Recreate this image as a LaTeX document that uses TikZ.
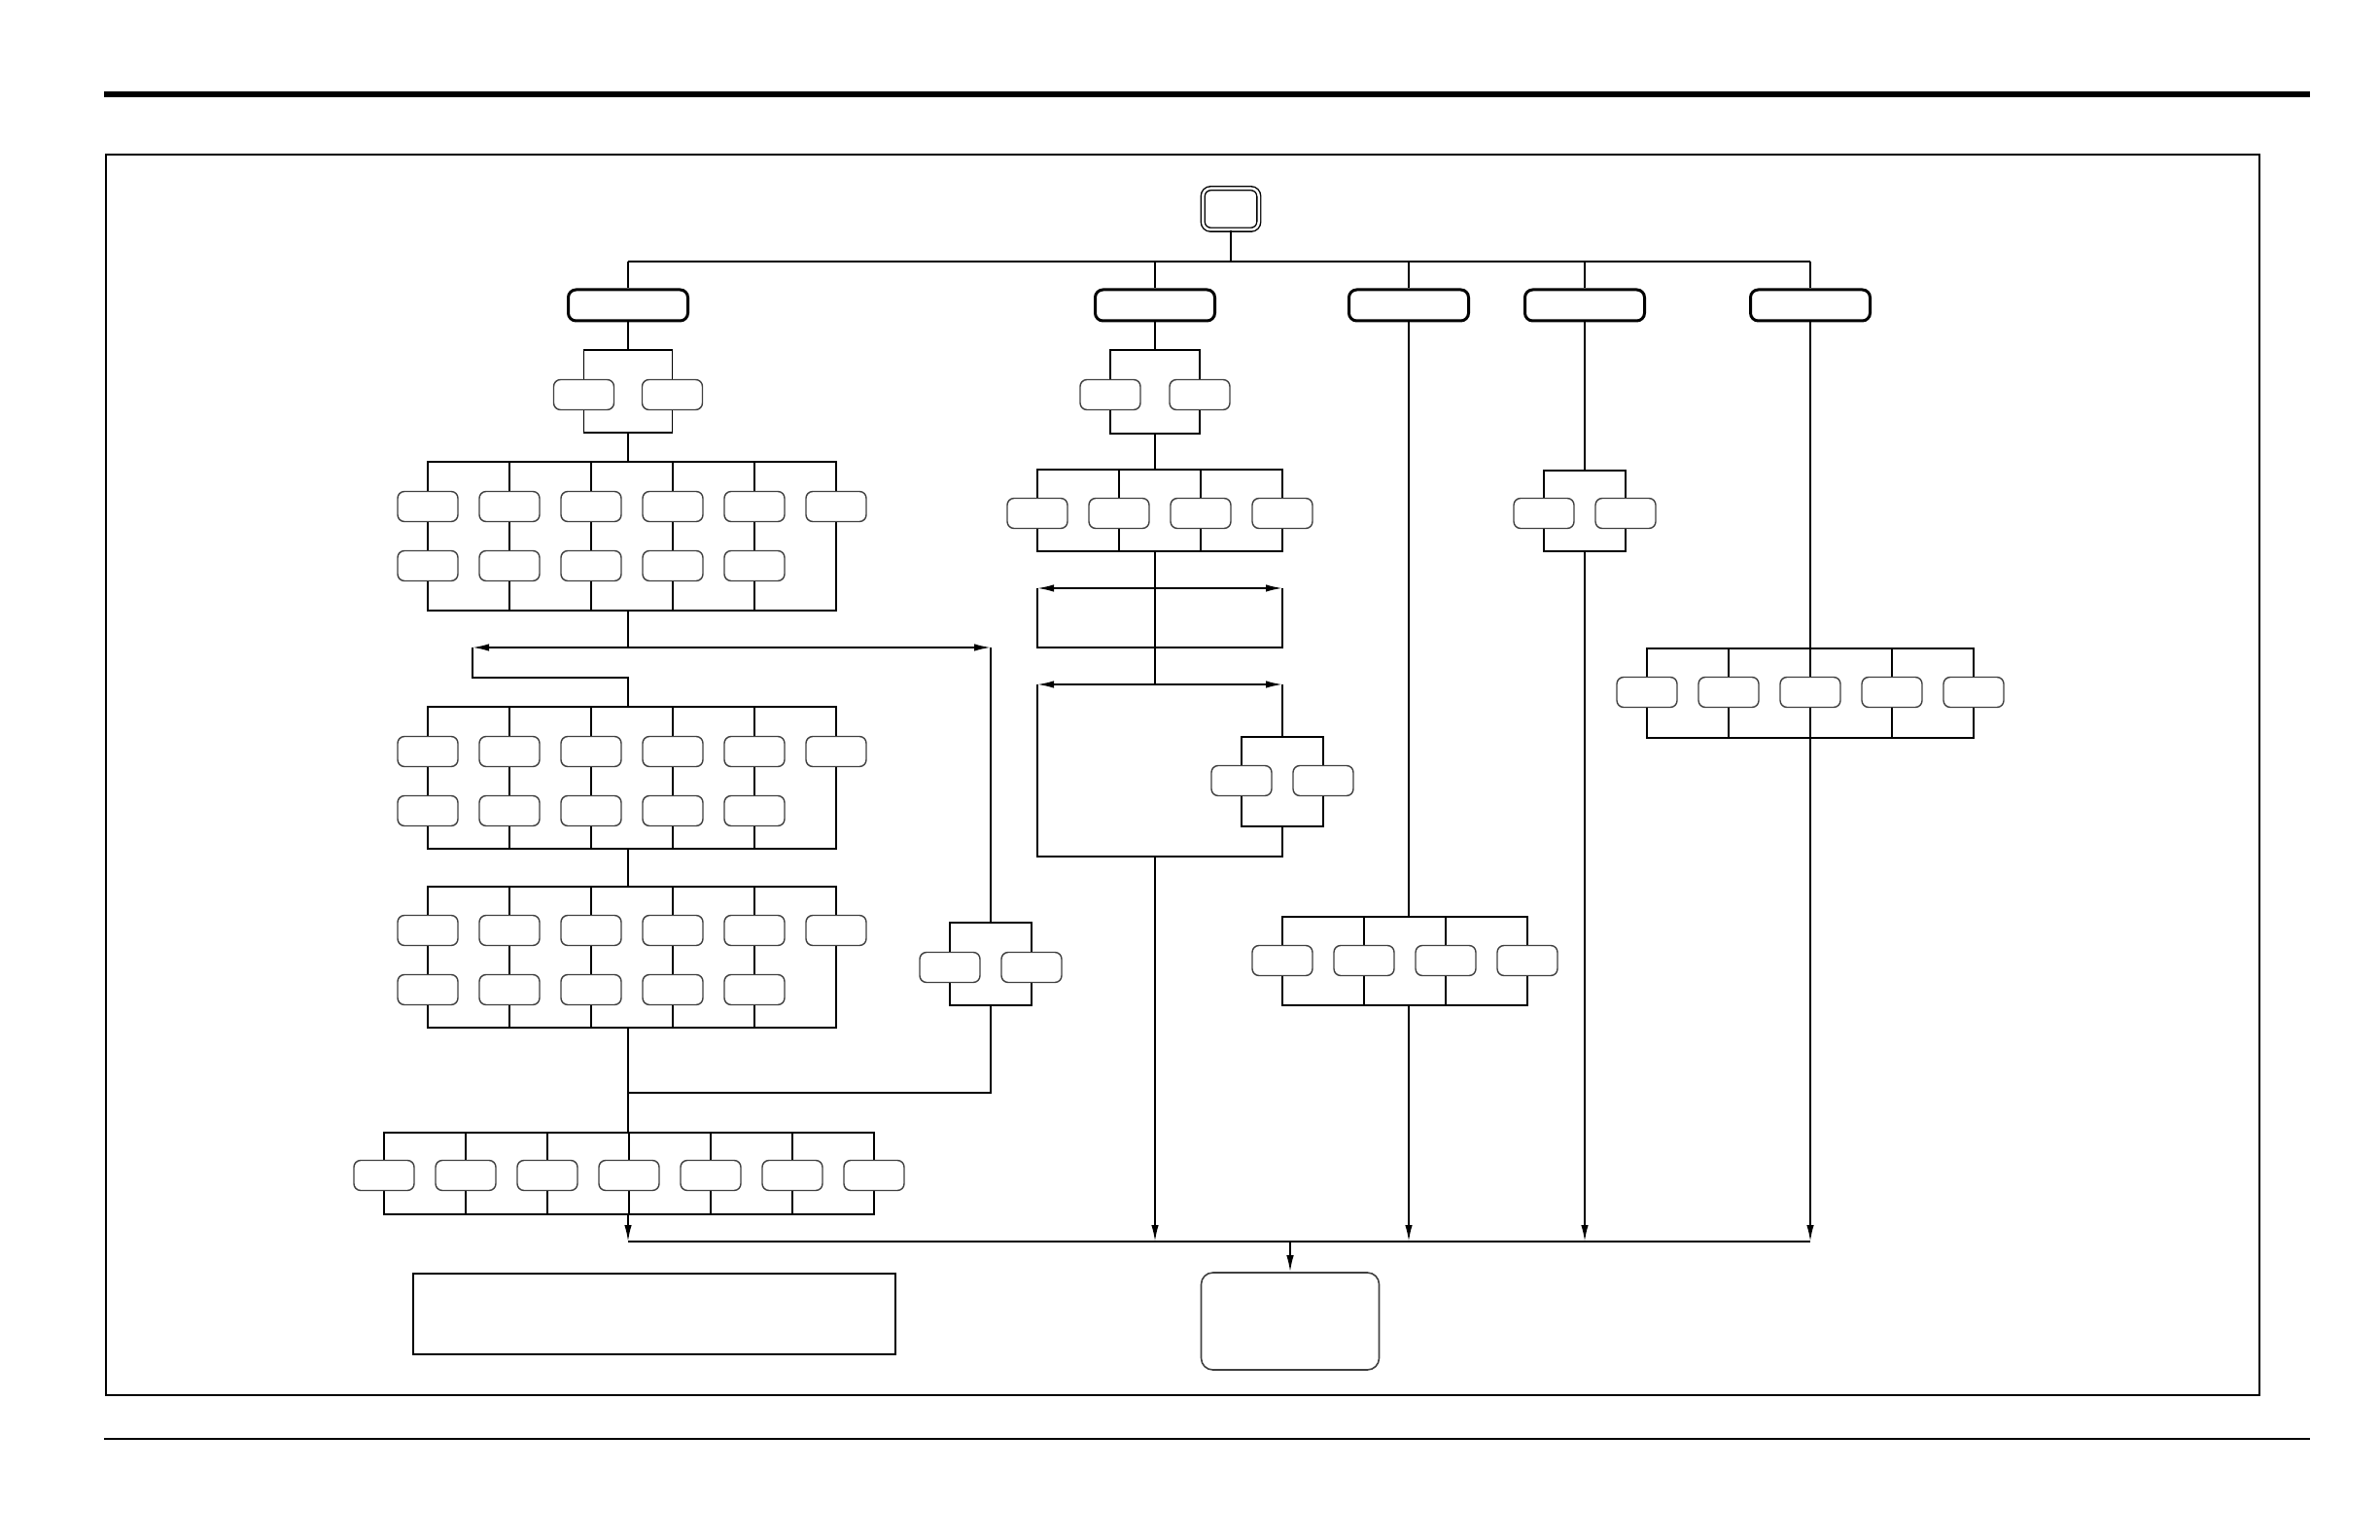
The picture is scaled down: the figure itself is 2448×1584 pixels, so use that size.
\documentclass[tikz,border=0pt]{standalone}
\usetikzlibrary{arrows.meta}

\begin{document}
\begin{tikzpicture}[x=0.1mm,y=-0.1mm,
  wire/.style={line width=0.5pt},
  flow/.style={wire,-{Latex[length=1.7mm,width=0.75mm]}},
  cell/.style={draw=black!75,line width=0.4pt,fill=white,rounded corners=0.7mm,minimum width=6.2mm,minimum height=3.1mm,inner sep=0pt},
  stage/.style={draw,line width=0.85pt,fill=white,rounded corners=0.8mm,minimum width=12.3mm,minimum height=3.2mm,inner sep=0pt},
  topbox/.style={draw,double,double distance=0.25mm,line width=0.4pt,rounded corners=0.8mm,minimum width=5.75mm,minimum height=4.25mm,inner sep=0pt},
  endbox/.style={draw=black!75,line width=0.45pt,rounded corners=1.2mm,minimum width=18.3mm,minimum height=10mm,inner sep=0pt},
  memo/.style={draw,line width=0.45pt,minimum width=49.6mm,minimum height=8.3mm,inner sep=0pt}]
\useasboundingbox (0,0) rectangle (2448,1584);
\draw[line width=1.7pt] (107,97) -- (2376,97);
\draw[line width=0.55pt] (107,1480) -- (2376,1480);
\draw[line width=0.7pt] (109,159) rectangle (2324,1435);

\node[topbox] (start) at (1266,215) {};
\coordinate (bus) at (1266,269);
\coordinate (sink) at (1327,1277);
\foreach \n/\xa in {b1/646,b2/1188,b3/1449,b4/1630,b5/1862}
  \node[stage] (\n) at (\xa,314) {};
\draw[wire] (start) -- (bus);
\draw[wire] (b1 |- bus) -- (b5 |- bus);
\foreach \n in {b1,b2,b3,b4,b5}
  \draw[wire] (\n |- bus) -- (\n);

\foreach \n/\xa/\ya/\yb/\w/\r in {f1/646/360/445/45.5/406,f2/1188/360/446/46/406,f4/1630/484/567/42/528,fR/1019/949/1034/42/995,fE/1319/758/850/42/803}{
  \draw[wire] ({\xa-\w},\ya) rectangle ({\xa+\w},\yb);
  \coordinate (\n-n) at (\xa,\ya);
  \coordinate (\n-s) at (\xa,\yb);
  \node[cell] (\n-1) at ({\xa-\w},\r) {};
  \node[cell] (\n-2) at ({\xa+\w},\r) {};
}

\foreach \g/\xa/\m/\ya/\yb/\r/\xc in {gD/395/7/1165/1249/1209/646,gE/1067/4/483/567/528/1188,gF/1319/4/943/1034/988/1449,gG/1694/5/667/759/712/1862}{
  \draw[wire] (\xa,\ya) rectangle ({\xa+84*(\m-1)},\yb);
  \coordinate (\g-n) at (\xc,\ya);
  \coordinate (\g-s) at (\xc,\yb);
  \foreach \k in {1,...,\m}{
    \draw[wire] ({\xa+84*(\k-1)},\ya) -- ({\xa+84*(\k-1)},\yb);
    \node[cell] (\g-\k) at ({\xa+84*(\k-1)},\r) {};
  }
}

\foreach \g/\ya/\yb/\ra/\rb in {gA/475/628/521/582,gB/727/873/773/834,gC/912/1057/957/1018}{
  \draw[wire] (440,\ya) rectangle (860,\yb);
  \coordinate (\g-n) at (646,\ya);
  \coordinate (\g-s) at (646,\yb);
  \foreach \k in {1,...,6}{
    \draw[wire] ({356+84*\k},\ya) -- ({356+84*\k},\yb);
    \node[cell] (\g-a\k) at ({356+84*\k},\ra) {};
  }
  \foreach \k in {1,...,5}
    \node[cell] (\g-b\k) at ({356+84*\k},\rb) {};
}

\coordinate (s1) at (646,666);
\coordinate (s1-w) at (486,666);
\coordinate (s1-e) at (1019,666);
\coordinate (jog) at (646,697);
\coordinate (m1) at (646,1124);
\draw[wire] (b1) -- (f1-n) (f1-s) -- (gA-n) (gA-s) -- (s1);
\draw[flow] (s1) -- (s1-w);
\draw[flow] (s1) -- (s1-e);
\draw[wire] (s1-w) |- (jog) -- (gB-n) (gB-s) -- (gC-n) (gC-s) -- (m1) -- (gD-n);
\draw[wire] (s1-e) -- (fR-n) (fR-s) |- (m1);
\draw[flow] (gD-s) -- (b1 |- sink);

\coordinate (ra) at (1188,605);
\coordinate (ra-w) at (1067,605);
\coordinate (ra-e) at (1319,605);
\coordinate (ra-s) at (1188,666);
\coordinate (rb) at (1188,704);
\coordinate (rb-w) at (1067,704);
\coordinate (rb-e) at (1319,704);
\coordinate (rb-s) at (1188,881);
\draw[wire] (b2) -- (f2-n) (f2-s) -- (gE-n) (gE-s) -- (ra) -- (ra-s) -- (rb);
\draw[flow] (ra) -- (ra-w);
\draw[flow] (ra) -- (ra-e);
\draw[wire] (ra-w) |- (ra-s) -| (ra-e);
\draw[flow] (rb) -- (rb-w);
\draw[flow] (rb) -- (rb-e);
\draw[wire] (rb-e) -- (fE-n) (fE-s) |- (rb-s) -| (rb-w);
\draw[flow] (rb-s) -- (b2 |- sink);

\draw[wire] (b3) -- (gF-n) (b4) -- (f4-n) (b5) -- (gG-n);
\draw[flow] (gF-s) -- (b3 |- sink);
\draw[flow] (f4-s) -- (b4 |- sink);
\draw[flow] (gG-s) -- (b5 |- sink);
\draw[wire] (b1 |- sink) -- (b5 |- sink);
\node[endbox] (finish) at (1327,1359) {};
\draw[flow] (sink) -- (finish);
\node[memo] (legend) at (673,1351.5) {};
\end{tikzpicture}
\end{document}
